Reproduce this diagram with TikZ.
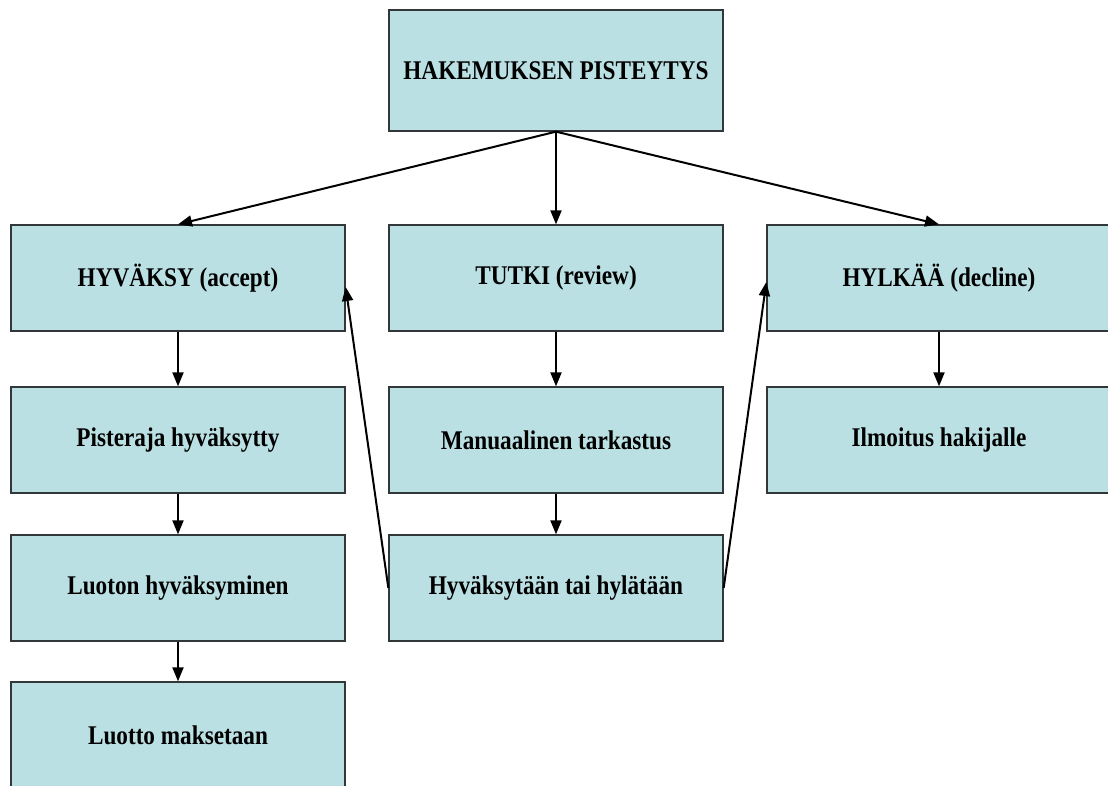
\documentclass[tikz,border=0pt]{standalone}
\usepackage{fontspec}
\setmainfont[FakeStretch=0.86]{Liberation Serif}
\usetikzlibrary{positioning,arrows.meta}
\definecolor{boxfill}{RGB}{186,224,227}
\definecolor{boxline}{RGB}{50,55,58}

\begin{document}
\begin{tikzpicture}[x=1pt,y=-1pt,
                    box/.style={rectangle,draw=boxline,fill=boxfill,line width=1.3pt,
                                minimum width=334pt,minimum height=106pt,inner sep=0pt,
                                font=\fontsize{27}{30}\selectfont\bfseries},
                    wide/.style={minimum width=344pt},
                    link/.style={-{Triangle[length=14pt,width=11pt]},line width=2pt}]
  \useasboundingbox (0,0) rectangle (1108,785);

  % Scoring
  \node[box,minimum height=121pt] (score) at (556,70.5) {HAKEMUKSEN PISTEYTYS};

  % Accept column
  \node[box] (accept) at (178,278) {HYVÄKSY (accept)};
  \node[box,below=54.7pt of accept] (limit) {Pisteraja hyväksytty};
  \node[box,below=40.7pt of limit] (approve) {Luoton hyväksyminen};
  \node[box,below=39.7pt of approve] (payout) {Luotto maksetaan};

  % Review column
  \node[box] (review) at (556,278) {TUTKI (review)};
  \node[box,below=54.7pt of review] (manual) {Manuaalinen tarkastus};
  \node[box,below=40.7pt of manual] (decide) {Hyväksytään tai hylätään};

  % Decline column
  \node[box,wide] (decline) at (939,278) {HYLKÄÄ (decline)};
  \node[box,wide,below=54.7pt of decline] (notify) {Ilmoitus hakijalle};

  \draw[link] (score.south) -- (accept.north);
  \draw[link] (score.south) -- (review.north);
  \draw[link] (score.south) -- (decline.north);

  \draw[link] (accept.south) -- (limit.north);
  \draw[link] (limit.south) -- (approve.north);
  \draw[link] (approve.south) -- (payout.north);
  \draw[link] (review.south) -- (manual.north);
  \draw[link] (manual.south) -- (decide.north);
  \draw[link] (decline.south) -- (notify.north);

  \draw[link] (decide.west) -- ([yshift=-9pt]accept.east);
  \draw[link] (decide.east) -- ([yshift=-4pt]decline.west);
\end{tikzpicture}
\end{document}
